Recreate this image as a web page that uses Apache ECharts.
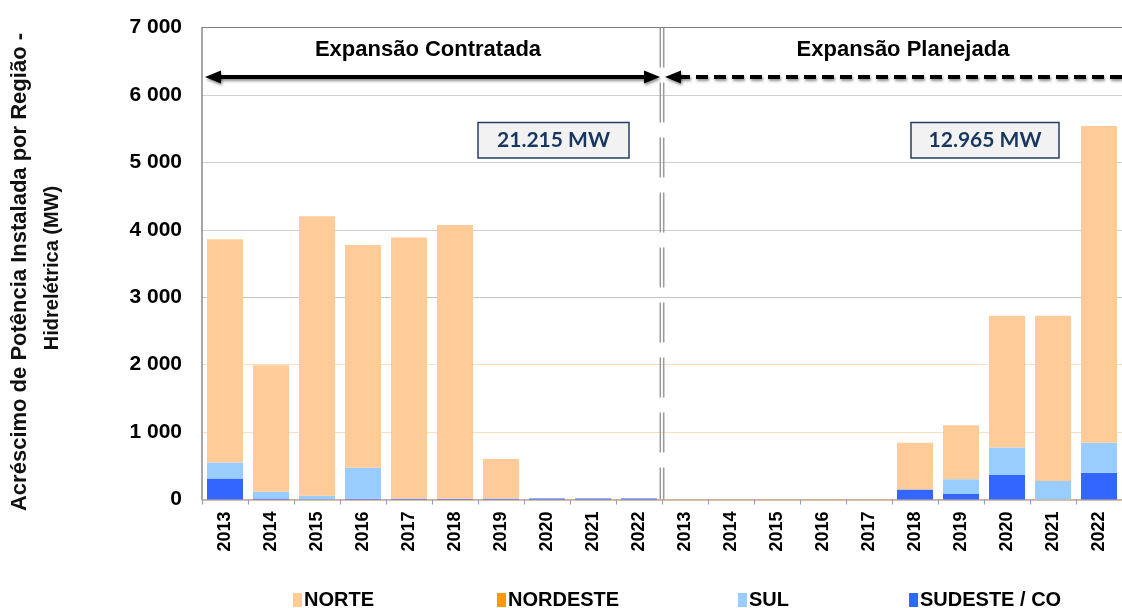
<!DOCTYPE html>
<html>
<head>
<meta charset="utf-8">
<script src="https://cdn.jsdelivr.net/npm/echarts@6/dist/echarts.min.js"></script>
<style>
  html, body { margin: 0; padding: 0; background: #fff; }
  #chart { width: 1122px; height: 608px; }
</style>
</head>
<body>
<div id="chart"></div>
<script>
// two periods, same years
const years = ['2013', '2014', '2015', '2016', '2017', '2018', '2019', '2020', '2021', '2022']
const categories = years.concat(years)

// MW per region
const sudeste = [310, 15, 5, 10, 10, 10, 10, 15, 15, 15, 0, 0, 0, 0, 0, 150, 80, 365, 0, 395]
const sul = [240, 100, 50, 460, 5, 0, 5, 0, 0, 0, 0, 0, 0, 0, 0, 0, 220, 405, 275, 445]
const nordeste = [0, 0, 0, 0, 0, 0, 0, 0, 0, 0, 0, 0, 0, 0, 0, 0, 0, 0, 0, 0]
const norte = [3310, 1875, 4145, 3305, 3870, 4060, 585, 0, 0, 0, 0, 0, 0, 0, 0, 690, 800, 1955, 2450, 4700]

const periodNames = ['Expansão Contratada', 'Expansão Planejada']
const periodTotals = ['21.215 MW', '12.965 MW']

const FONT = 'Arial, "Liberation Sans", sans-serif'

function thousands(v) {
    return String(v).replace(/\B(?=(\d{3})+(?!\d))/g, ' ')
}

let myChart = echarts.init(document.getElementById('chart'))

function legendItem(name, left) {
    return {
        data: [name],
        left: left,
        top: 585,
        icon: 'rect',
        itemWidth: 9,
        itemHeight: 14,
        itemGap: 0,
        selectedMode: false,
        textStyle: { fontFamily: FONT, fontWeight: 'bold', fontSize: 20, color: '#000', padding: [0, 0, 0, -3] }
    }
}

let option = {
    animation: false,
    grid: {
        left: 202,
        top: 27.5,
        width: 931,
        height: 472
    },
    legend: [
        legendItem('NORTE', 288),
        legendItem('NORDESTE', 492),
        legendItem('SUL', 733),
        legendItem('SUDESTE / CO', 904)
    ],
    xAxis: {
        type: 'category',
        data: categories,
        axisLine: { lineStyle: { color: '#c9a98b', width: 1.5 } },
        axisTick: { show: true, length: 5, lineStyle: { color: '#8c9bd0' } },
        axisLabel: {
            rotate: 90,
            margin: 12,
            fontFamily: FONT,
            fontWeight: 'bold',
            fontSize: 18,
            color: '#000'
        }
    },
    yAxis: {
        type: 'value',
        min: 0,
        max: 7000,
        interval: 1000,
        axisLine: { show: true, lineStyle: { color: '#8a8a8a', width: 1.5 } },
        axisTick: { show: false },
        axisLabel: {
            margin: 20,
            fontFamily: FONT,
            fontWeight: 'bold',
            fontSize: 21,
            color: '#000',
            formatter: thousands
        },
        splitLine: {
            lineStyle: {
                color: ['#cccccc', '#fbdcbd', '#fbdcbd', '#c4c4c4', '#cfcfcf', '#cfcfcf', '#cfcfcf', '#7f7f7f'],
                width: 1
            }
        }
    },
    series: [{
        name: 'SUDESTE / CO',
        type: 'bar',
        stack: 'total',
        barWidth: 36,
        data: sudeste,
        itemStyle: { color: '#3366ff' }
    }, {
        name: 'SUL',
        type: 'bar',
        stack: 'total',
        data: sul,
        itemStyle: { color: '#99ccff' }
    }, {
        name: 'NORDESTE',
        type: 'bar',
        stack: 'total',
        data: nordeste,
        itemStyle: { color: '#ff9900' }
    }, {
        name: 'NORTE',
        type: 'bar',
        stack: 'total',
        data: norte,
        itemStyle: { color: '#ffcc99' }
    }]
}
myChart.setOption(option)

// decorations placed from the axes
let x9 = myChart.convertToPixel({ xAxisIndex: 0 }, 9)
let x10 = myChart.convertToPixel({ xAxisIndex: 0 }, 10)
let divX = (x9 + x10) / 2
let left = myChart.convertToPixel({ xAxisIndex: 0 }, 0) - (x10 - x9) / 2
let yTop = myChart.convertToPixel({ yAxisIndex: 0 }, 7000)
let yZero = myChart.convertToPixel({ yAxisIndex: 0 }, 0)
let arrowY = 77
let arrowShadow = { shadowBlur: 3, shadowColor: 'rgba(0,0,0,0.45)', shadowOffsetY: 2, shadowOffsetX: 1 }

function head(tipX, dir) {
    return {
        type: 'polygon',
        shape: { points: [[tipX, arrowY], [tipX + dir * 16, arrowY - 6.5], [tipX + dir * 16, arrowY + 6.5]] },
        style: Object.assign({ fill: '#000' }, arrowShadow),
        z: 20
    }
}

function totalBox(x, w, text) {
    return [{
        type: 'rect',
        shape: { x: x, y: 122.5, width: w, height: 35.5 },
        style: { fill: '#f2f2f2', stroke: '#243f60', lineWidth: 1.5 },
        z: 20
    }, {
        type: 'text',
        x: x + w / 2,
        y: 140.5,
        style: {
            text: text,
            fill: '#17375e',
            font: 'bold 21px Lato, "Open Sans", sans-serif',
            textAlign: 'center',
            textVerticalAlign: 'middle'
        },
        z: 21
    }]
}

let graphic = [{
    type: 'text',
    x: 20,
    y: 272,
    rotation: Math.PI / 2,
    style: {
        text: 'Acréscimo de Potência Instalada por Região -',
        fill: '#111',
        font: 'bold 22px ' + FONT,
        textAlign: 'center',
        textVerticalAlign: 'middle'
    }
}, {
    type: 'text',
    x: 52,
    y: 268,
    rotation: Math.PI / 2,
    style: {
        text: 'Hidrelétrica (MW)',
        fill: '#111',
        font: 'bold 20px ' + FONT,
        textAlign: 'center',
        textVerticalAlign: 'middle'
    }
}, {
    type: 'line',
    shape: { x1: divX - 1.7, y1: yTop, x2: divX - 1.7, y2: yZero },
    style: { stroke: '#9a9a9a', lineWidth: 1.5, lineDash: [40, 15] },
    z: 15
}, {
    type: 'line',
    shape: { x1: divX + 1.7, y1: yTop, x2: divX + 1.7, y2: yZero },
    style: { stroke: '#9a9a9a', lineWidth: 1.5, lineDash: [40, 15] },
    z: 15
}, {
    type: 'text',
    x: 428,
    y: 50,
    style: {
        text: periodNames[0],
        fill: '#000',
        font: 'bold 22px ' + FONT,
        textAlign: 'center',
        textVerticalAlign: 'middle'
    }
}, {
    type: 'text',
    x: 903,
    y: 50,
    style: {
        text: periodNames[1],
        fill: '#000',
        font: 'bold 22px ' + FONT,
        textAlign: 'center',
        textVerticalAlign: 'middle'
    }
}, {
    type: 'line',
    shape: { x1: left + 14, y1: arrowY, x2: divX - 16, y2: arrowY },
    style: Object.assign({ stroke: '#000', lineWidth: 4 }, arrowShadow),
    z: 20
}, head(left + 3, 1), head(divX - 2, -1), {
    type: 'line',
    shape: { x1: divX + 16, y1: arrowY, x2: 1140, y2: arrowY },
    style: Object.assign({ stroke: '#000', lineWidth: 4, lineDash: [12, 6] }, arrowShadow),
    z: 20
}, head(divX + 3, 1)]
graphic = graphic.concat(totalBox(478, 151, periodTotals[0]), totalBox(911, 148, periodTotals[1]))

myChart.setOption({ graphic: graphic })
</script>
</body>
</html>
